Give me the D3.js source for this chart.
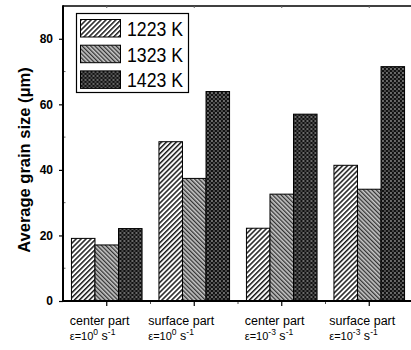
<!DOCTYPE html>
<html>
<head>
<meta charset="utf-8">
<script src="https://cdn.jsdelivr.net/npm/d3@7"></script>
<style>
  body { margin: 0; background: #fff; }
  svg { display: block; font-family: Arial, "Liberation Sans", sans-serif; }
</style>
</head>
<body>
<div id="chart"></div>
<script>
// data
const groups = ["c0", "s0", "c3", "s3"];
const groupTitle = ["center part", "surface part", "center part", "surface part"];
const groupExp = ["0", "0", "-3", "-3"];
const series = ["1223 K", "1323 K", "1423 K"];
const v1223 = [19.1, 48.6, 22.2, 41.4];
const v1323 = [17.1, 37.4, 32.6, 34.1];
const v1423 = [22.1, 63.9, 57.0, 71.5];
const yTicks = [0, 20, 40, 60, 80];
const yMinor = [10, 30, 50, 70];

const values = [v1223, v1323, v1423];
const rows = groups.map((g, i) => ({
  g,
  vals: series.map((s, j) => ({ s, v: values[j][i] }))
}));

const width = 411, height = 350;
const mLeft = 63, mTop = 6, mBottom = 301, mRight = 413;

const svg = d3.select("#chart").append("svg")
  .attr("width", width).attr("height", height)
  .attr("viewBox", [0, 0, width, height]);

// fill patterns
const defs = svg.append("defs");
const p1 = defs.append("pattern").attr("id", "p1223")
  .attr("patternUnits", "userSpaceOnUse").attr("width", 3.5).attr("height", 3.5)
  .attr("patternTransform", "rotate(45)");
p1.append("rect").attr("width", 3.5).attr("height", 3.5).attr("fill", "#fff");
p1.append("rect").attr("width", 1.5).attr("height", 3.5).attr("fill", "#1a1a1a");

const p2 = defs.append("pattern").attr("id", "p1323")
  .attr("patternUnits", "userSpaceOnUse").attr("width", 3).attr("height", 3)
  .attr("patternTransform", "rotate(-45)");
p2.append("rect").attr("width", 3).attr("height", 3).attr("fill", "#c8c8c8");
p2.append("rect").attr("width", 1.3).attr("height", 3).attr("fill", "#333");

const p3 = defs.append("pattern").attr("id", "p1423")
  .attr("patternUnits", "userSpaceOnUse").attr("width", 4).attr("height", 4);
p3.append("rect").attr("width", 4).attr("height", 4).attr("fill", "#111");
p3.append("rect").attr("width", 2).attr("height", 2).attr("fill", "#6a6a6a");
p3.append("rect").attr("x", 2).attr("y", 2).attr("width", 2).attr("height", 2).attr("fill", "#4a4a4a");

const fills = d3.scaleOrdinal().domain(series)
  .range(["url(#p1223)", "url(#p1323)", "url(#p1423)"]);

const x0 = d3.scaleBand().domain(groups).range([mLeft, mRight])
  .paddingInner(0.193).paddingOuter(0.0965);
const x1 = d3.scaleBand().domain(series).range([0, x0.bandwidth()]);
const y = d3.scaleLinear().domain([0, 90]).range([mBottom, mTop]);

// bars
svg.append("g").selectAll("g")
  .data(rows)
  .join("g")
  .attr("transform", (d) => `translate(${x0(d.g)},0)`)
  .selectAll("rect")
  .data((d) => d.vals)
  .join("rect")
  .attr("x", (d) => x1(d.s))
  .attr("y", (d) => y(d.v))
  .attr("width", x1.bandwidth())
  .attr("height", (d) => y(0) - y(d.v))
  .attr("fill", (d) => fills(d.s))
  .attr("stroke", "#000")
  .attr("stroke-width", 1);

// frame (top line, right edge falls outside the window)
svg.append("line")
  .attr("x1", mLeft).attr("x2", mRight).attr("y1", mTop).attr("y2", mTop)
  .attr("stroke", "#000").attr("stroke-width", 1.5);

// y axis
const yAxis = svg.append("g").attr("transform", `translate(${mLeft},0)`)
  .call(d3.axisLeft(y).tickValues(yTicks).tickSize(4).tickPadding(6));
yAxis.select(".domain").remove();
yAxis.selectAll("text").attr("font-size", 12).attr("font-weight", "bold")
  .attr("fill", "#000").attr("font-family", "Arial, 'Liberation Sans', sans-serif");
yAxis.selectAll(".tick line").attr("stroke-width", 1.2);
svg.append("g").selectAll("line")
  .data(yMinor)
  .join("line")
  .attr("x1", mLeft).attr("x2", mLeft + 2.5)
  .attr("y1", (d) => y(d)).attr("y2", (d) => y(d))
  .attr("stroke", "#666");
svg.append("line")
  .attr("x1", mLeft).attr("x2", mLeft).attr("y1", mTop - 0.75).attr("y2", mBottom + 1)
  .attr("stroke", "#000").attr("stroke-width", 2);

// x axis
const xAxis = svg.append("g").attr("transform", `translate(0,${mBottom})`)
  .call(d3.axisBottom(x0).tickSize(5).tickFormat(""));
xAxis.select(".domain").remove();
xAxis.selectAll(".tick line").attr("stroke-width", 1.2);
svg.append("g").selectAll("line")
  .data(groups.slice(1))
  .join("line")
  .attr("x1", (d) => x0(d) - x0.step() * x0.paddingInner() / 2)
  .attr("x2", (d) => x0(d) - x0.step() * x0.paddingInner() / 2)
  .attr("y1", mBottom).attr("y2", mBottom + 3)
  .attr("stroke", "#555");
svg.append("g").selectAll("line")
  .data(groups)
  .join("line")
  .attr("x1", (d) => x0(d) + x0.bandwidth() / 2)
  .attr("x2", (d) => x0(d) + x0.bandwidth() / 2)
  .attr("y1", mTop).attr("y2", mTop + 2)
  .attr("stroke", "#666");
svg.append("line")
  .attr("x1", mLeft - 1).attr("x2", mRight).attr("y1", mBottom).attr("y2", mBottom)
  .attr("stroke", "#000").attr("stroke-width", 2);

// category labels, two lines each
const labelShift = [-37, -46, -37, -40];
const lab = svg.append("g").selectAll("text")
  .data(groups)
  .join("text")
  .attr("font-size", 12.5)
  .attr("fill", "#000")
  .attr("transform", (d, i) => `translate(${x0(d) + x0.bandwidth() / 2 + labelShift[i]},0)`);
lab.append("tspan").attr("x", 0).attr("y", 324.5).text((d, i) => groupTitle[i]);
lab.append("tspan").attr("x", 0).attr("y", 340).attr("font-size", 11).text("\u03b5=10");
lab.append("tspan").attr("dy", -5).attr("font-size", 8.5).text((d, i) => groupExp[i]);
lab.append("tspan").attr("dy", 5).attr("font-size", 12.5).text(" s");
lab.append("tspan").attr("dy", -5).attr("font-size", 8.5).text("-1");

// y title
svg.append("text")
  .attr("transform", "translate(30,160) rotate(-90)")
  .attr("text-anchor", "middle")
  .attr("font-size", 16.5)
  .attr("font-weight", "bold")
  .attr("fill", "#000")
  .text("Average grain size (\u03bcm)");

// legend
const legend = svg.append("g");
legend.append("rect")
  .attr("x", 76.5).attr("y", 13.5).attr("width", 112).attr("height", 79)
  .attr("fill", "#fff").attr("stroke", "#000").attr("stroke-width", 1.2);
const li = legend.selectAll("g")
  .data(series)
  .join("g")
  .attr("transform", (d, i) => `translate(80.5,${19.5 + i * 25.7})`);
li.append("rect")
  .attr("width", 40).attr("height", 17.5)
  .attr("fill", (d) => fills(d))
  .attr("stroke", "#000").attr("stroke-width", 1);
li.append("text")
  .attr("x", 46.5).attr("y", 16.5)
  .attr("font-size", 20)
  .attr("textLength", 56).attr("lengthAdjust", "spacingAndGlyphs")
  .attr("fill", "#000")
  .text((d) => d);
</script>
</body>
</html>
